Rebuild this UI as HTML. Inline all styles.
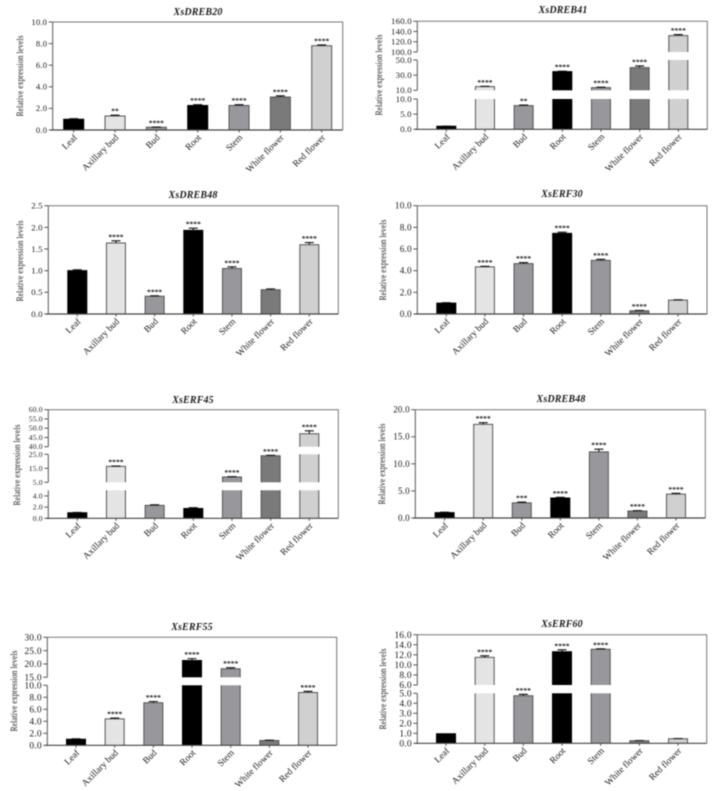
<!DOCTYPE html>
<html lang="en">
<head>
<meta charset="utf-8">
<title>Relative expression levels</title>
<style>
html,body{margin:0;padding:0;background:#fff;width:720px;height:791px;overflow:hidden}
svg{display:block;filter:blur(.5px)}
text{font-family:"Liberation Serif",serif;fill:#1a1a1a}
</style>
</head>
<body>
<svg id="figure" xmlns="http://www.w3.org/2000/svg" width="720" height="791" viewBox="0 0 720 791"></svg>
<script>
const categories = ['Leaf', 'Axillary bud', 'Bud', 'Root', 'Stem', 'White flower', 'Red flower'];

const dreb20Values = [1.0, 1.3, 0.25, 2.27, 2.27, 3.05, 7.8];
const dreb20Errors = [0.05, 0.07, 0.02, 0.08, 0.07, 0.12, 0.08];
const dreb20Stars = ['', '**', '****', '****', '****', '****', '****'];
const dreb20Domains = [[0, 10]];
const dreb20Ticks = [[0, 2, 4, 6, 8, 10]];

const dreb41Values = [1.0, 14.8, 7.8, 34.6, 13.5, 39.9, 132];
const dreb41Errors = [0.05, 0.4, 0.2, 0.6, 0.6, 2.2, 2];
const dreb41Stars = ['', '****', '**', '****', '****', '****', '****'];
const dreb41Domains = [[0, 10], [10, 50], [100, 160]];
const dreb41Ticks = [[0, 5, 10], [10, 30, 50], [100, 120, 140, 160]];

const dreb48Values = [1.0, 1.64, 0.41, 1.93, 1.05, 0.56, 1.6];
const dreb48Errors = [0.02, 0.05, 0.01, 0.05, 0.04, 0.02, 0.05];
const dreb48Stars = ['', '****', '****', '****', '****', '', '****'];
const dreb48Domains = [[0, 2.5]];
const dreb48Ticks = [[0, 0.5, 1, 1.5, 2, 2.5]];

const erf30Values = [1.0, 4.35, 4.65, 7.45, 4.95, 0.3, 1.28];
const erf30Errors = [0.05, 0.05, 0.1, 0.1, 0.1, 0.03, 0.03];
const erf30Stars = ['', '****', '****', '****', '****', '****', ''];
const erf30Domains = [[0, 10]];
const erf30Ticks = [[0, 2, 4, 6, 8, 10]];

const erf45Values = [1.0, 16.4, 2.3, 1.75, 8.8, 24, 47];
const erf45Errors = [0.05, 0.2, 0.1, 0.15, 0.2, 0.3, 1.6];
const erf45Stars = ['', '****', '', '', '****', '****', '****'];
const erf45Domains = [[0, 5], [5, 25], [40, 60]];
const erf45Ticks = [[0, 2, 4], [5, 15, 25], [40, 45, 50, 55, 60]];

const dreb48bValues = [1.0, 17.3, 2.8, 3.7, 12.2, 1.3, 4.4];
const dreb48bErrors = [0.08, 0.3, 0.15, 0.12, 0.5, 0.05, 0.15];
const dreb48bStars = ['', '****', '***', '****', '****', '****', '****'];
const dreb48bDomains = [[0, 20]];
const dreb48bTicks = [[0, 5, 10, 15, 20]];

const erf55Values = [1.0, 4.4, 7.1, 21.3, 18.2, 0.8, 8.8];
const erf55Errors = [0.08, 0.15, 0.2, 0.7, 0.4, 0.05, 0.2];
const erf55Stars = ['', '****', '****', '****', '****', '', '****'];
const erf55Domains = [[0, 10], [15, 30]];
const erf55Ticks = [[0, 2, 4, 6, 8, 10], [15, 20, 25, 30]];

const erf60Values = [0.95, 11.5, 4.75, 12.6, 13.1, 0.25, 0.45];
const erf60Errors = [0, 0.3, 0.15, 0.4, 0.1, 0.03, 0.03];
const erf60Stars = ['', '****', '****', '****', '****', '', ''];
const erf60Domains = [[0, 5], [6, 16]];
const erf60Ticks = [[0, 1, 2, 3, 4, 5], [6, 8, 10, 12, 14, 16]];

const barFills = ['#000000', '#e4e4e4', '#98989c', '#000000', '#98989c', '#7a7a7a', '#d0d0d0'];
const yAxisTitle = 'Relative expression levels';

const panels = [
  { id: 'dreb20', title: 'XsDREB20', values: dreb20Values, errors: dreb20Errors, stars: dreb20Stars, domains: dreb20Domains, ticks: dreb20Ticks,
    left: 52.7, right: 342.7, pad: 21, bands: [[130, 22]], barW: 20, titleX: 198, titleY: 15, labelX: 23, labelY: 76, fs: 8.6 },
  { id: 'dreb41', title: 'XsDREB41', values: dreb41Values, errors: dreb41Errors, stars: dreb41Stars, domains: dreb41Domains, ticks: dreb41Ticks,
    left: 417.3, right: 707.3, pad: 29, bands: [[129.3, 99], [90.3, 60], [52, 21.3]], barW: 19, titleX: 563, titleY: 13, labelX: 382, labelY: 75, fs: 8.8 },
  { id: 'dreb48', title: 'XsDREB48', values: dreb48Values, errors: dreb48Errors, stars: dreb48Stars, domains: dreb48Domains, ticks: dreb48Ticks,
    left: 48.3, right: 338.3, pad: 29, bands: [[314, 205.7]], barW: 19, titleX: 193, titleY: 198, labelX: 23, labelY: 261, fs: 8.8 },
  { id: 'erf30', title: 'XsERF30', values: erf30Values, errors: erf30Errors, stars: erf30Stars, domains: erf30Domains, ticks: erf30Ticks,
    left: 417.3, right: 707, pad: 29, bands: [[314, 205.7]], barW: 19, titleX: 562, titleY: 197, labelX: 386, labelY: 260, fs: 9.2 },
  { id: 'erf45', title: 'XsERF45', values: erf45Values, errors: erf45Errors, stars: erf45Stars, domains: erf45Domains, ticks: erf45Ticks,
    left: 48.3, right: 338.3, pad: 29, bands: [[518.3, 490.3], [482.3, 454.3], [446.7, 409.7]], barW: 19, titleX: 193, titleY: 403, labelX: 20, labelY: 465, fs: 7.6 },
  { id: 'dreb48b', title: 'XsDREB48', values: dreb48bValues, errors: dreb48bErrors, stars: dreb48bStars, domains: dreb48bDomains, ticks: dreb48bTicks,
    left: 415.3, right: 705.3, pad: 29.3, bands: [[518, 409.7]], barW: 19, titleX: 561, titleY: 402, labelX: 385, labelY: 464, fs: 9 },
  { id: 'erf55', title: 'XsERF55', values: erf55Values, errors: erf55Errors, stars: erf55Stars, domains: erf55Domains, ticks: erf55Ticks,
    left: 47.3, right: 336.7, pad: 28.7, bands: [[745.3, 685.3], [677.3, 637.3]], barW: 19, titleX: 192, titleY: 630, labelX: 17, labelY: 691, fs: 9.5 },
  { id: 'erf60', title: 'XsERF60', values: erf60Values, errors: erf60Errors, stars: erf60Stars, domains: erf60Domains, ticks: erf60Ticks,
    left: 417.3, right: 706.7, pad: 28.7, bands: [[743.3, 693.3], [685, 634.7]], barW: 19, titleX: 562, titleY: 627, labelX: 386, labelY: 689, fs: 9.5 }
];

const NS = 'http://www.w3.org/2000/svg';
const figure = document.getElementById('figure');

function make(tag, parent, attrs, txt) {
  const node = document.createElementNS(NS, tag);
  for (const k in attrs) node.setAttribute(k, attrs[k]);
  if (txt !== undefined) node.textContent = txt;
  parent.appendChild(node);
  return node;
}

function slug(s) {
  return s.toLowerCase().replace(/\s+/g, '-');
}

function drawPanel(p) {
  const g = make('g', figure, {});
  
  

  const n = categories.length;
  const xScale = function (i) {
    return p.left + p.pad + i * (p.right - p.left - 2 * p.pad) / (n - 1);
  };
  const yInBand = function (v, s) {
    const d = p.domains[s];
    const b = p.bands[s];
    return b[0] + (v - d[0]) / (d[1] - d[0]) * (b[1] - b[0]);
  };
  const yScale = function (v) {
    for (let s = 0; s < p.domains.length; s++) {
      if (v <= p.domains[s][1]) return yInBand(Math.max(v, p.domains[s][0]), s);
    }
    return yInBand(p.domains[p.domains.length - 1][1], p.domains.length - 1);
  };
  const bottom = p.bands[0][0];
  const top = p.bands[p.bands.length - 1][1];

  const title = make('text', g, { x: p.titleX, y: p.titleY, 'text-anchor': 'middle', 'font-size': 10, 'font-weight': 'bold', 'font-style': 'italic', 'letter-spacing': '.15' }, p.title);
  
  

  const yTitle = make('text', g, { transform: 'translate(' + p.labelX + ',' + p.labelY + ') rotate(-90)', 'text-anchor': 'middle', 'font-size': 9.6, textLength: 81, lengthAdjust: 'spacingAndGlyphs' }, yAxisTitle);
  
  

  const frame = make('path', g, { d: 'M' + p.left + ' ' + top + 'H' + p.right + 'V' + bottom, fill: 'none', stroke: '#777', 'stroke-width': 1 });
  
  

  p.values.forEach(function (v, i) {
    const cx = xScale(i);
    const x0 = cx - p.barW / 2;
    const x1 = cx + p.barW / 2;
    const barG = make('g', g, {});
    
    
    const edge = barFills[i] === '#000000' ? '#000' : '#555';
    p.domains.forEach(function (d, s) {
      if (v <= d[0]) return;
      const capped = v > d[1];
      const yb = yInBand(d[0], s);
      const yt = yInBand(Math.min(v, d[1]), s);
      make('rect', barG, { x: x0, y: yt, width: x1 - x0, height: yb - yt, fill: barFills[i] });
      make('path', barG, { d: 'M' + x0 + ' ' + yb + 'V' + yt + (capped ? 'M' + x1 + ' ' + yt : 'H' + x1) + 'V' + yb, fill: 'none', stroke: edge, 'stroke-width': 1 });
    });

    const err = p.errors[i];
    const yErr = yScale(v + err);
    if (err > 0) {
      const errBar = make('path', g, { d: 'M' + cx + ' ' + yScale(v) + 'V' + yErr + 'M' + (cx - 4.5) + ' ' + yErr + 'H' + (cx + 4.5), fill: 'none', stroke: '#111', 'stroke-width': 1.1 });
      
      
    }
    if (p.stars[i]) {
      const star = make('text', g, { x: cx, y: yErr - 1.5, 'text-anchor': 'middle', 'font-size': 7.6, 'font-weight': 'bold' }, p.stars[i]);
      
      
    }

    const xTick = make('path', g, { d: 'M' + cx + ' ' + bottom + 'v2.5', stroke: '#555', 'stroke-width': 1 });
    
    

    const xLabel = make('text', g, { transform: 'translate(' + (cx + 4) + ',' + (bottom + 8) + ') rotate(-45)', 'text-anchor': 'end', 'font-size': 9.3 }, categories[i]);
    
    
  });

  p.bands.forEach(function (b, s) {
    const axis = make('path', g, { d: 'M' + p.left + ' ' + b[0] + 'V' + b[1], stroke: '#666', 'stroke-width': 1.1, fill: 'none' });
    
    
    p.ticks[s].forEach(function (t) {
      const y = yInBand(t, s);
      const tick = make('path', g, { d: 'M' + (p.left - 4) + ' ' + y + 'H' + p.left, stroke: '#555', 'stroke-width': 1 });
      
      
      const label = make('text', g, { x: p.left - 5.5, y: y + p.fs * 0.33, 'text-anchor': 'end', 'font-size': p.fs, 'letter-spacing': '.2' }, t.toFixed(1));
      
      
    });
  });

  const xAxis = make('path', g, { d: 'M' + (p.left - 2) + ' ' + bottom + 'H' + p.right, stroke: '#444', 'stroke-width': 1.2, fill: 'none' });
  
  
}

panels.forEach(drawPanel);
</script>
</body>
</html>
